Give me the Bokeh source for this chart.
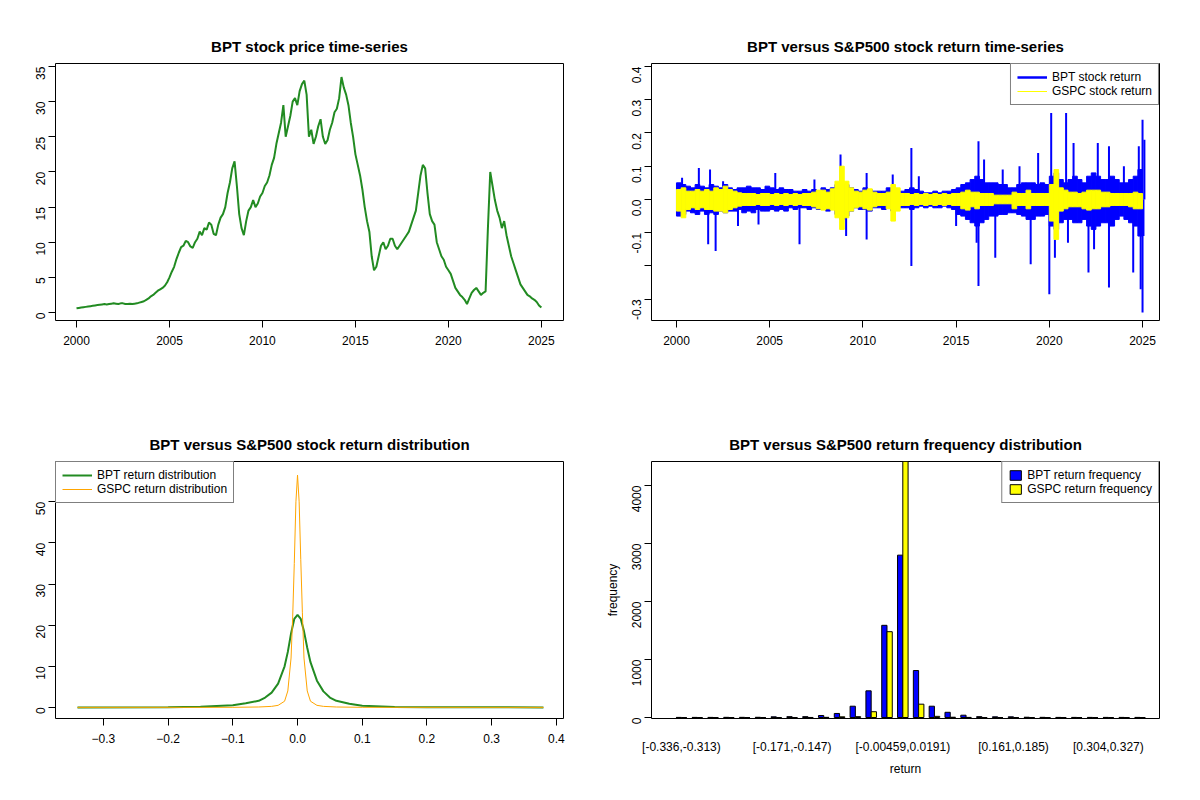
import math
from bokeh.plotting import figure
from bokeh.layouts import gridplot
from bokeh.models import Range1d, FixedTicker, Legend, LegendItem, Title
from bokeh.embed import file_html
from bokeh.resources import INLINE

FONT = "Liberation Sans"

# ---------------- data ----------------
price_years = [2000 + 0.125 * i for i in range(201)]
bpt_price = [0.6, 0.65, 0.7, 0.75, 0.8, 0.85, 0.9, 0.95, 1.0, 1.05, 1.1, 1.15, 1.2, 1.15, 1.2, 1.25,
             1.3, 1.25, 1.2, 1.3, 1.3, 1.2, 1.2, 1.25, 1.2, 1.25, 1.3, 1.4, 1.5, 1.6, 1.8, 2.0,
             2.3, 2.5, 2.8, 3.1, 3.3, 3.5, 3.8, 4.3, 5.0, 5.8, 6.5, 7.6, 8.5, 9.3, 9.5, 10.2,
             10.0, 9.4, 9.2, 10.0, 10.5, 11.5, 11.0, 12.0, 11.8, 12.8, 12.5, 11.2, 11.0, 12.5, 13.5, 14.0,
             15.0, 17.0, 18.5, 20.5, 21.5, 18.0, 14.0, 12.0, 11.0, 13.0, 14.5, 15.0, 16.0, 15.0, 15.5, 16.5,
             17.0, 18.0, 18.5, 19.5, 21.0, 22.0, 24.0, 25.5, 27.0, 29.5, 25.0, 26.5, 28.0, 30.0, 30.5, 29.5,
             31.5, 32.5, 33.0, 31.0, 25.0, 26.0, 24.0, 25.0, 26.5, 27.5, 25.0, 24.0, 24.5, 26.0, 27.0, 28.5,
             29.0, 30.5, 33.5, 32.0, 31.0, 29.5, 27.0, 25.0, 22.5, 21.0, 19.5, 17.5, 15.0, 13.0, 11.5, 8.0,
             6.0, 6.5, 8.0, 9.5, 10.0, 9.0, 9.5, 10.5, 10.5, 9.5, 9.0, 9.5, 10.0, 10.5, 11.0, 11.5,
             12.5, 13.5, 14.5, 17.0, 19.5, 21.0, 20.5, 17.0, 14.0, 13.0, 12.5, 10.0, 9.0, 8.0, 7.5, 6.5,
             6.0, 5.5, 4.5, 3.5, 3.0, 2.5, 2.2, 1.8, 1.2, 2.0, 2.8, 3.2, 3.5, 3.0, 2.5, 2.8,
             3.0, 12.0, 20.0, 18.0, 16.0, 14.5, 13.5, 12.0, 13.0, 11.0, 9.5, 8.0, 7.0, 6.0, 5.0, 4.0,
             3.5, 3.0, 2.5, 2.3, 2.0, 1.8, 1.5, 1.0, 0.7]

ret_years = [2000.125 + 0.25 * i for i in range(100)]
bpt_hi = [.05, .045, .04, .035, .045, .04, .035, .045, .04, .035, .045, .035, .03, .035, .035, .04,
          .035, .035, .03, .04, .035, .03, .035, .03, .03, .025, .025, .03, .025, .03, .025, .035,
          .03, .035, .045, .05, .045, .035, .03, .025, .035, .03, .025, .025, .025, .035, .03, .025,
          .025, .03, .035, .03, .025, .02, .02, .025, .02, .025, .025, .03, .035, .045, .05, .06,
          .07, .06, .05, .05, .05, .045, .045, .035, .035, .045, .05, .05, .05, .045, .05, .045,
          .07, .08, .06, .05, .06, .07, .06, .05, .07, .08, .07, .06, .06, .07, .06, .05,
          .05, .06, .07, .09]
bpt_lo = [-.05, -.045, -.035, -.04, -.045, -.035, -.045, -.04, -.045, -.035, -.04, -.035, -.035, -.03, -.04, -.035,
          -.04, -.03, -.035, -.035, -.03, -.035, -.03, -.035, -.025, -.03, -.025, -.025, -.03, -.025, -.03, -.025,
          -.035, -.03, -.045, -.06, -.05, -.035, -.025, -.03, -.03, -.035, -.025, -.025, -.03, -.025, -.035, -.025,
          -.025, -.025, -.03, -.025, -.02, -.025, -.02, -.025, -.025, -.02, -.025, -.03, -.045, -.05, -.06, -.07,
          -.08, -.07, -.06, -.05, -.05, -.045, -.045, -.04, -.04, -.045, -.05, -.06, -.06, -.05, -.05, -.045,
          -.08, -.09, -.07, -.06, -.06, -.07, -.07, -.06, -.08, -.09, -.08, -.07, -.07, -.08, -.06, -.05,
          -.06, -.07, -.08, -.11]
gspc_hi = [.03, .035, .025, .025, .03, .025, .03, .025, .035, .03, .04, .03, .025, .02, .018, .018,
           .018, .015, .018, .018, .015, .018, .015, .018, .015, .018, .015, .018, .018, .022, .028, .028,
           .022, .032, .055, .1, .055, .035, .025, .022, .028, .032, .022, .018, .018, .022, .045, .035,
           .018, .018, .015, .018, .015, .018, .015, .018, .015, .018, .015, .018, .018, .022, .028, .022,
           .022, .018, .018, .018, .013, .013, .013, .013, .022, .018, .018, .028, .018, .018, .018, .018,
           .045, .09, .035, .028, .022, .022, .018, .022, .028, .028, .028, .022, .022, .018, .018, .018,
           .018, .018, .022, .018]
gspc_lo = [-.035, -.055, -.03, -.025, -.03, -.025, -.03, -.03, -.035, -.035, -.04, -.03, -.025, -.02, -.018, -.018,
           -.018, -.015, -.018, -.018, -.015, -.018, -.015, -.018, -.015, -.018, -.015, -.018, -.018, -.022, -.028, -.032,
           -.028, -.032, -.055, -.09, -.055, -.035, -.025, -.022, -.028, -.032, -.022, -.018, -.018, -.028, -.065, -.035,
           -.018, -.018, -.015, -.018, -.015, -.018, -.015, -.018, -.015, -.018, -.015, -.018, -.018, -.028, -.032, -.022,
           -.028, -.018, -.018, -.018, -.013, -.013, -.013, -.013, -.028, -.018, -.018, -.028, -.018, -.018, -.018, -.018,
           -.065, -.12, -.035, -.028, -.022, -.022, -.022, -.028, -.032, -.028, -.028, -.022, -.022, -.018, -.018, -.018,
           -.018, -.022, -.028, -.028]
spike_years = [2000.3, 2001.2, 2001.8, 2001.7, 2002.1, 2002.5, 2003.3, 2004.4, 2005.3, 2006.6, 2007.4,
               2008.8, 2009.1, 2010.2, 2010.2, 2011.6, 2012.6, 2012.6, 2013.0, 2015.0,
               2016.2, 2016.2, 2016.5, 2016.1, 2017.1, 2017.5, 2018.4, 2019.0, 2019.4, 2020.1, 2020.0, 2020.3,
               2020.9, 2021.3, 2021.0, 2022.1, 2022.6, 2022.4, 2023.2, 2023.2, 2024.0, 2024.5, 2024.8,
               2025.0, 2025.0, 2024.9, 2025.1, 2025.05]
spike_vals = [0.065, 0.095, 0.09, -0.135, -0.155, 0.055, -0.08, -0.075, 0.08, -0.135, 0.06,
              0.135, -0.11, 0.08, -0.12, 0.075, 0.155, -0.2, 0.07, -0.08,
              0.175, -0.26, 0.12, -0.13, -0.175, 0.09, 0.1, -0.195, 0.14, 0.26, -0.285, -0.175,
              0.26, 0.17, -0.13, -0.22, 0.17, -0.15, -0.265, 0.16, 0.1, -0.22, 0.16,
              0.24, -0.34, -0.27, 0.18, -0.11]

bpt_dx = [-0.34, -0.2, -0.15, -0.1, -0.08, -0.06, -0.05, -0.04, -0.03, -0.02, -0.015, -0.01, -0.005, 0.0,
          0.005, 0.01, 0.015, 0.02, 0.03, 0.04, 0.05, 0.06, 0.08, 0.1, 0.15, 0.2, 0.38]
bpt_dy = [0, 0.05, 0.15, 0.5, 1.0, 1.6, 2.4, 3.6, 5.8, 10, 13.5, 18, 21.5, 22.5,
          21.5, 18.5, 14.5, 11, 6.5, 3.9, 2.4, 1.6, 0.9, 0.4, 0.1, 0.05, 0]
gspc_dx = [-0.34, -0.1, -0.06, -0.04, -0.03, -0.02, -0.015, -0.01, -0.0075, -0.005, -0.0025, 0.0,
           0.0025, 0.005, 0.0075, 0.01, 0.015, 0.02, 0.03, 0.04, 0.06, 0.1, 0.38]
gspc_dy = [0, 0.02, 0.1, 0.25, 0.5, 1.5, 4, 12, 22, 35, 50, 56.5, 50, 36, 23, 12, 4, 1.5, 0.5, 0.25, 0.1, 0.02, 0]

bin_labels = {0: "[-0.336,-0.313)", 7: "[-0.171,-0.147)", 14: "[-0.00459,0.0191)",
              21: "[0.161,0.185)", 27: "[0.304,0.327)"}
bpt_freq = [2, 2, 2, 3, 3, 4, 12, 15, 15, 35, 70, 195, 460, 1590, 2800,
            810, 195, 90, 40, 15, 12, 12, 5, 3, 2, 2, 2, 2, 2, 2]
gspc_freq = [0, 0, 0, 0, 0, 0, 0, 0, 1, 3, 12, 15, 100, 1480, 4700,
             230, 20, 5, 2, 0, 0, 0, 0, 0, 0, 0, 0, 0, 0, 0]

# ---------------- helpers ----------------
def make_fig(title, xr, yr):
    p = figure(width=596, height=398, output_backend="svg", toolbar_location=None,
               x_range=Range1d(*xr), y_range=Range1d(*yr),
               min_border_left=55, min_border_right=33, min_border_top=63, min_border_bottom=78)
    p.title = Title(text=title, align="center", text_font=FONT, text_font_size="15px",
                    text_font_style="bold", text_color="black", standoff=18)
    p.xgrid.visible = False
    p.ygrid.visible = False
    p.outline_line_color = "black"
    p.outline_line_width = 1
    p.background_fill_color = "white"
    for ax in (p.xaxis[0], p.yaxis[0]):
        ax.axis_line_color = None
        ax.major_tick_line_color = "black"
        ax.minor_tick_line_color = None
        ax.major_tick_out = 7
        ax.major_tick_in = 0
        ax.major_label_text_font = FONT
        ax.major_label_text_font_size = "12px"
        ax.major_label_text_color = "black"
        ax.major_label_standoff = 8
        ax.axis_label_text_font = FONT
        ax.axis_label_text_font_size = "12px"
        ax.axis_label_text_font_style = "normal"
        ax.axis_label_text_color = "black"
    p.yaxis[0].major_label_orientation = math.pi / 2
    return p

def legend(p, items, loc):
    lg = Legend(items=items, location=loc, border_line_color="black", border_line_width=1,
                margin=0, padding=6, spacing=0, label_text_font=FONT, label_text_font_size="12px",
                label_text_color="black",
                label_height=14, glyph_height=14, glyph_width=30, background_fill_alpha=1)
    p.add_layout(lg)

# ---------------- panel 1 ----------------
p1 = make_fig("BPT stock price time-series", (1998.87, 2026.19), (-1.14, 35.43))
p1.line(price_years, bpt_price, color="forestgreen", line_width=2)
p1.xaxis.ticker = FixedTicker(ticks=[2000, 2005, 2010, 2015, 2020, 2025])
p1.yaxis.ticker = FixedTicker(ticks=[0, 5, 10, 15, 20, 25, 30, 35])

# ---------------- panel 2 ----------------
p2 = make_fig("BPT versus S&P500 stock return time-series", (1998.66, 2025.91), (-0.364, 0.409))
p2.vbar(x=ret_years, top=bpt_hi, bottom=bpt_lo, width=0.25, color="blue")
p2.segment(x0=spike_years, y0=[0] * len(spike_years), x1=spike_years, y1=spike_vals,
           color="blue", line_width=2)
p2.vbar(x=ret_years, top=gspc_hi, bottom=gspc_lo, width=0.25, color="yellow")
r_b = p2.line([math.nan], [math.nan], color="blue", line_width=2.5)
r_g = p2.line([math.nan], [math.nan], color="yellow", line_width=1)
legend(p2, [LegendItem(label="BPT stock return", renderers=[r_b]),
            LegendItem(label="GSPC stock return", renderers=[r_g])], "top_right")
p2.xaxis.ticker = FixedTicker(ticks=[2000, 2005, 2010, 2015, 2020, 2025])
p2.yaxis.ticker = FixedTicker(ticks=[-0.3, -0.2, -0.1, 0.0, 0.1, 0.2, 0.3, 0.4])
p2.yaxis.major_label_overrides = {-0.3: "-0.3", -0.2: "", -0.1: "-0.1", 0: "0.0",
                                  0.1: "0.1", 0.2: "0.2", 0.3: "0.3", 0.4: "0.4"}

# ---------------- panel 3 ----------------
p3 = make_fig("BPT versus S&P500 stock return distribution", (-0.374, 0.411), (-2.7, 59.8))
r3b = p3.line(bpt_dx, bpt_dy, color="forestgreen", line_width=2)
r3g = p3.line(gspc_dx, gspc_dy, color="orange", line_width=1)
legend(p3, [LegendItem(label="BPT return distribution", renderers=[r3b]),
            LegendItem(label="GSPC return distribution", renderers=[r3g])], "top_left")
p3.xaxis.ticker = FixedTicker(ticks=[-0.3, -0.2, -0.1, 0.0, 0.1, 0.2, 0.3, 0.4])
p3.xaxis.major_label_overrides = {0: "0.0"}
p3.yaxis.ticker = FixedTicker(ticks=[0, 10, 20, 30, 40, 50])

# ---------------- panel 4 ----------------
p4 = make_fig("BPT versus S&P500 return frequency distribution", (-3.68, 92.7), (-17, 4415))
nb = len(bpt_freq)
r4b = p4.vbar(x=[1.5 + 3 * k for k in range(nb)], top=bpt_freq, width=1,
              fill_color="blue", line_color="black")
r4g = p4.vbar(x=[2.5 + 3 * k for k in range(nb)], top=gspc_freq, width=1,
              fill_color="yellow", line_color="black")
legend(p4, [LegendItem(label="BPT return frequency", renderers=[r4b]),
            LegendItem(label="GSPC return frequency", renderers=[r4g])], "top_right")
p4.legend.glyph_width = 14
p4.legend.glyph_height = 12
ticks = [2 + 3 * k for k in bin_labels]
p4.xaxis.ticker = FixedTicker(ticks=ticks)
p4.xaxis.major_label_overrides = {2 + 3 * k: v for k, v in bin_labels.items()}
p4.xaxis.major_tick_line_color = None
p4.xaxis.major_label_standoff = 14
p4.xaxis.axis_label = "return"
p4.yaxis.axis_label = "frequency"
p4.yaxis.ticker = FixedTicker(ticks=[0, 1000, 2000, 3000, 4000])

grid = gridplot([[p1, p2], [p3, p4]], toolbar_location=None)
open("out.html", "w").write(file_html(grid, INLINE))
